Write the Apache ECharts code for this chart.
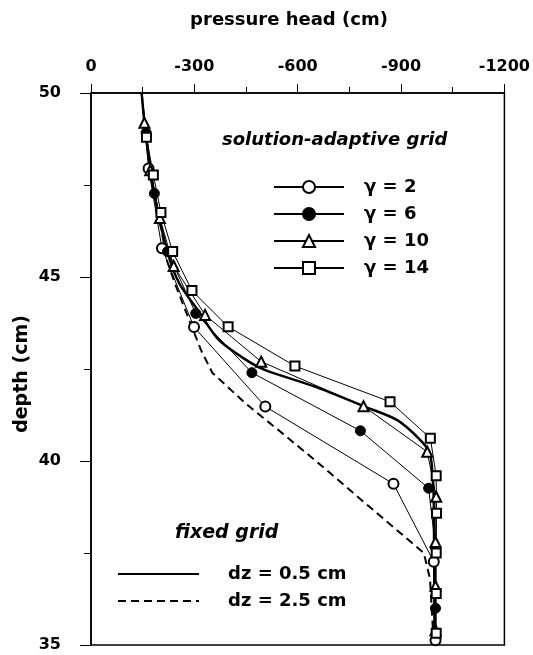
<!DOCTYPE html>
<html>
<head>
<meta charset="utf-8">
<script src="https://cdn.jsdelivr.net/npm/echarts@6/dist/echarts.min.js"></script>
<style>html,body{margin:0;padding:0;background:#fff;}#c{width:533px;height:655px;}</style>
</head>
<body>
<div id="c"></div>
<script>
// ---- data (depth in cm, pressure head in cm) ----
const headTicks = [0, -300, -600, -900, -1200];
const depthTicks = [35, 40, 45, 50];

const g2Depth = [50, 47.95, 45.78, 43.64, 41.48, 39.38, 37.26, 35.13, 35];
const g2Head  = [-147, -167, -206, -299, -506, -878, -995, -1000, -1000];

const g6Depth = [50, 48.92, 47.27, 45.69, 44.01, 42.40, 40.82, 39.26, 37.65, 36.0, 35];
const g6Head  = [-147, -160, -184, -222, -304, -467, -782, -980, -1000, -1000, -1000];

const g10Depth = [50, 49.19, 47.9, 46.6, 45.3, 43.97, 42.70, 41.49, 40.25, 39.03, 37.8, 36.6, 35.4, 35];
const g10Head  = [-147, -155, -172, -200, -240, -331, -494, -791, -976, -1002, -1000, -1000, -1000, -1000];

const g14Depth = [50, 48.8, 47.77, 46.75, 45.69, 44.63, 43.65, 42.58, 41.61, 40.62, 39.60, 38.58, 37.5, 36.4, 35.32, 35];
const g14Head  = [-147, -161, -181, -203, -237, -293, -398, -592, -868, -985, -1002, -1003, -1002, -1002, -1002, -1002];

const fine05Depth = [50, 48.94, 47.23, 45.68, 44.83, 44.05, 43.29, 42.70, 42.47, 42.02, 41.48, 41.11, 40.57, 40.22, 39.67, 38.94, 35];
const fine05Head  = [-147, -158, -184, -222, -256, -314, -371, -458, -506, -650, -794, -889, -956, -983, -991, -995, -997];

const coarse25Depth = [50, 48.9, 47.5, 46.5, 45.4, 44.74, 43.83, 43.02, 42.4, 41.57, 40.84, 40.0, 39.03, 37.5, 36.8, 35];
const coarse25Head  = [-147, -158, -180, -200, -222, -247, -285, -319, -352, -448, -544, -653, -774, -966, -984, -995];

const adaptiveNames = ['γ = 2', 'γ = 6', 'γ = 10', 'γ = 14'];
const fixedNames = ['dz = 0.5 cm', 'dz = 2.5 cm'];

// ---- build ----
const FONT = 'DejaVu Sans';
function pts(depth, head, markBoundary) {
  return depth.map((d, i) => {
    const item = { value: [head[i], d] };
    if (markBoundary && (d === 50 || d === 35)) item.symbol = 'none';
    return item;
  });
}
function adaptive(name, depth, head, symbol, size) {
  return {
    name, type: 'line', data: pts(depth, head, true),
    symbol, symbolSize: size, showSymbol: true,
    lineStyle: { color: '#000', width: 1 },
    itemStyle: { color: '#000', borderColor: '#000', borderWidth: 1 },
    z: 3, animation: false
  };
}

const chart = echarts.init(document.getElementById('c'));
chart.setOption({
  animation: false,
  backgroundColor: '#fff',
  color: ['#000'],
  grid: { left: 91, right: 25, top: 93, bottom: 10, show: true, borderColor: '#000', borderWidth: 1.5, backgroundColor: 'transparent' },
  xAxis: {
    type: 'value', position: 'top', min: -1200, max: 0, interval: 300, inverse: true,
    axisLine: { show: true, lineStyle: { color: '#000', width: 1.5 } },
    axisTick: { show: true, inside: false, length: 9, lineStyle: { color: '#000' } },
    minorTick: { show: true, splitNumber: 2, length: 6, lineStyle: { color: '#000' } },
    splitLine: { show: false },
    axisLabel: { margin: 18, color: '#000', fontFamily: FONT, fontWeight: 'bold', fontSize: 16,
      formatter: v => { const t = headTicks.find(x => x === v); return t === undefined ? '' : String(t); } }
  },
  yAxis: {
    type: 'value', min: 35, max: 50, interval: 5,
    axisLine: { show: true, lineStyle: { color: '#000', width: 1.5 } },
    axisTick: { show: true, inside: false, length: 11, lineStyle: { color: '#000' } },
    minorTick: { show: true, splitNumber: 2, length: 7, lineStyle: { color: '#000' } },
    splitLine: { show: false },
    axisLabel: { margin: 30, color: '#000', fontFamily: FONT, fontWeight: 'bold', fontSize: 16,
      formatter: v => { const t = depthTicks.find(x => x === v); return t === undefined ? '' : String(t); } }
  },
  legend: [
    {
      data: adaptiveNames, orient: 'vertical', left: 273, top: 178, padding: 0,
      itemWidth: 70, itemHeight: 15, itemGap: 9,
      textStyle: { color: '#000', fontFamily: FONT, fontWeight: 'bold', fontSize: 18, lineHeight: 15, padding: [0, 0, 0, 15] },
      selectedMode: false
    },
    {
      data: fixedNames, orient: 'vertical', left: 117, top: 565, padding: 0,
      itemWidth: 81, itemHeight: 15, itemGap: 9,
      itemStyle: { color: 'transparent', borderColor: 'transparent', borderWidth: 0, opacity: 0 },
      textStyle: { color: '#000', fontFamily: FONT, fontWeight: 'bold', fontSize: 18, lineHeight: 15, padding: [0, 0, 0, 24] },
      selectedMode: false
    }
  ],
  graphic: [
    { type: 'text', x: 289, y: 20, style: { text: 'pressure head (cm)', font: 'bold 18px ' + FONT, fill: '#000', align: 'center', verticalAlign: 'middle' } },
    { type: 'text', x: 22, y: 374, rotation: Math.PI / 2, style: { text: 'depth (cm)', font: 'bold 19px ' + FONT, fill: '#000', align: 'center', verticalAlign: 'middle' } },
    { type: 'text', x: 222, y: 140, style: { text: 'solution-adaptive grid', font: 'italic bold 18px ' + FONT, fill: '#000', align: 'left', verticalAlign: 'middle' } },
    { type: 'text', x: 175, y: 533, style: { text: 'fixed grid', font: 'italic bold 19px ' + FONT, fill: '#000', align: 'left', verticalAlign: 'middle' } }
  ],
  series: [
    {
      name: fixedNames[0], type: 'line', data: pts(fine05Depth, fine05Head, false), symbol: 'none',
      smooth: 0.3, lineStyle: { color: '#000', width: 2.5 }, itemStyle: { color: '#000' }, z: 2
    },
    {
      name: fixedNames[1], type: 'line', data: pts(coarse25Depth, coarse25Head, false), symbol: 'none',
      lineStyle: { color: '#000', width: 2, type: [8, 5] }, itemStyle: { color: '#000' }, z: 2
    },
    adaptive(adaptiveNames[0], g2Depth, g2Head, 'emptyCircle', 10),
    adaptive(adaptiveNames[1], g6Depth, g6Head, 'circle', 10),
    adaptive(adaptiveNames[2], g10Depth, g10Head, 'emptyTriangle', 10),
    adaptive(adaptiveNames[3], g14Depth, g14Head, 'emptyRect', 9)
  ]
});
</script>
</body>
</html>
